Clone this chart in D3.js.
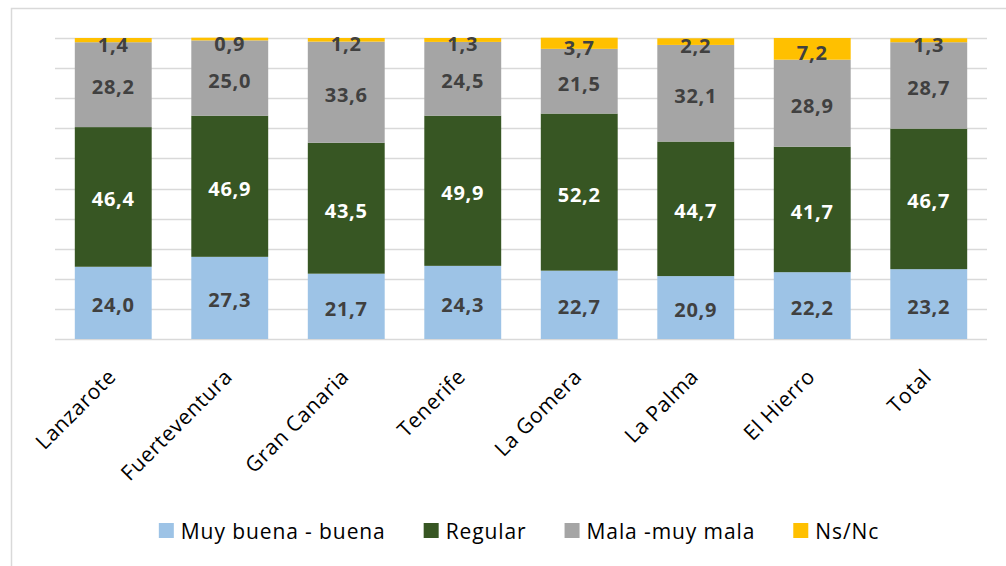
<!DOCTYPE html>
<html>
<head>
<meta charset="utf-8">
<script src="https://cdn.jsdelivr.net/npm/d3@7"></script>
<style>
  body { margin: 0; background: #fff; }
  svg text { font-family: "Open Sans", "Noto Sans", sans-serif; }
</style>
</head>
<body>
<div id="chart"></div>
<script>
// datos
const islas = ['Lanzarote', 'Fuerteventura', 'Gran Canaria', 'Tenerife', 'La Gomera', 'La Palma', 'El Hierro', 'Total'];
const series = ['Muy buena - buena', 'Regular', 'Mala -muy mala', 'Ns/Nc'];
const buena   = [24.0, 27.3, 21.7, 24.3, 22.7, 20.9, 22.2, 23.2];
const regular = [46.4, 46.9, 43.5, 49.9, 52.2, 44.7, 41.7, 46.7];
const mala    = [28.2, 25.0, 33.6, 24.5, 21.5, 32.1, 28.9, 28.7];
const nsnc    = [1.4, 0.9, 1.2, 1.3, 3.7, 2.2, 7.2, 1.3];
const colores = ['#9DC3E6', '#375623', '#A5A5A5', '#FFC000'];
const yTicks = d3.range(0, 101, 10);

const W = 1006, H = 566;
const margin = { top: 38, right: 19, bottom: 227, left: 55 };
const innerW = W - margin.left - margin.right;
const innerH = H - margin.top - margin.bottom;

const rows = islas.map((isla, i) => ({
  isla, [series[0]]: buena[i], [series[1]]: regular[i], [series[2]]: mala[i], [series[3]]: nsnc[i]
}));
const stacked = d3.stack().keys(series)(rows);

const svg = d3.select('#chart').append('svg')
  .attr('width', W).attr('height', H);

// marco
svg.append('rect')
  .attr('x', 11.5).attr('y', 8.5)
  .attr('width', W).attr('height', H)
  .attr('fill', 'none').attr('stroke', '#D9D9D9').attr('stroke-width', 1.5);

const g = svg.append('g').attr('transform', `translate(${margin.left},${margin.top})`);

const x = d3.scaleBand().domain(islas).range([0, innerW]).paddingInner(0.34).paddingOuter(0.17);
const y = d3.scaleLinear().domain([0, 100]).range([innerH, 0]);

// rejilla
g.selectAll('.grid').data(yTicks).enter().append('line')
  .attr('x1', 0).attr('x2', innerW)
  .attr('y1', d => Math.round(y(d)) + 0.5).attr('y2', d => Math.round(y(d)) + 0.5)
  .attr('stroke', '#D9D9D9').attr('stroke-width', 1.5);

// barras
const layer = g.selectAll('.serie').data(stacked).enter().append('g')
  .attr('fill', (d, i) => colores[i]);

layer.selectAll('rect').data(d => d).enter().append('rect')
  .attr('x', d => x(d.data.isla))
  .attr('width', x.bandwidth())
  .attr('y', d => y(d[1]))
  .attr('height', d => y(d[0]) - y(d[1]));

// etiquetas
stacked.forEach((s, si) => {
  g.selectAll('.lab' + si).data(s).enter().append('text')
    .attr('x', d => x(d.data.isla) + x.bandwidth() / 2)
    .attr('y', d => (y(d[0]) + y(d[1])) / 2 + (si === 3 ? 4 : 2))
    .attr('text-anchor', 'middle')
    .attr('dominant-baseline', 'central')
    .attr('font-size', '20px')
    .attr('letter-spacing', '0.8px')
    .attr('font-weight', 700)
    .attr('fill', si === 1 ? '#FFFFFF' : '#404040')
    .text(d => d3.format('.1f')(d[1] - d[0]).replace('.', ','));
});

// eje x
g.selectAll('.xlab').data(islas).enter().append('text')
  .attr('transform', d => `translate(${x(d) + x.bandwidth() / 2 + 4},${innerH + 39}) rotate(-45)`)
  .attr('text-anchor', 'end')
  .attr('font-size', '21px')
  .attr('letter-spacing', '0.6px')
  .attr('fill', '#000')
  .text(d => d);

// leyenda
const leg = svg.append('g');
let lx = 0;
series.forEach((s, i) => {
  const it = leg.append('g').attr('transform', `translate(${lx},0)`);
  it.append('rect').attr('x', 0).attr('y', 523).attr('width', 15).attr('height', 15).attr('fill', colores[i]);
  const t = it.append('text').attr('x', 22).attr('y', 531).attr('dominant-baseline', 'central')
    .attr('font-size', '21px').attr('letter-spacing', '0.9px').attr('fill', '#000').text(s);
  lx += 22 + t.node().getComputedTextLength() + 38;
});
const legW = lx - 38;
leg.attr('transform', `translate(${519 - legW / 2},0)`);
</script>
</body>
</html>
